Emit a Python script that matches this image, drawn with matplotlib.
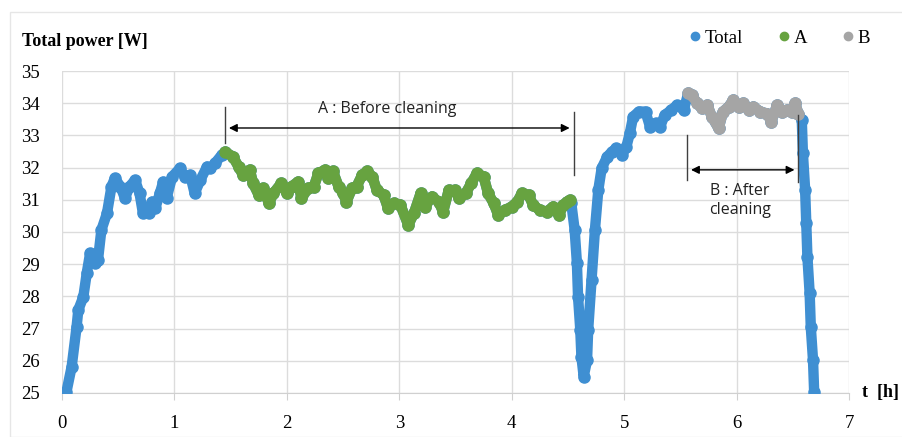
import numpy as np
import matplotlib
matplotlib.use("Agg")
import matplotlib.pyplot as plt
from matplotlib.patches import Rectangle

# ---- data ----
total_t = [0.04, 0.086, 0.13, 0.145, 0.19, 0.22, 0.25, 0.29, 0.32, 0.35, 0.40, 0.44, 0.47, 0.52,
           0.56, 0.60, 0.65, 0.69, 0.72, 0.77, 0.80, 0.83, 0.87, 0.90, 0.93, 0.98, 1.05, 1.09,
           1.14, 1.18, 1.23, 1.29, 1.32, 1.36, 1.42,
           1.45, 1.52, 1.57, 1.61, 1.67, 1.70, 1.75, 1.79, 1.84, 1.88, 1.95, 2.00, 2.04, 2.10,
           2.13, 2.19, 2.24, 2.28, 2.34, 2.37, 2.41, 2.46, 2.50, 2.53, 2.58, 2.62, 2.67, 2.71,
           2.76, 2.80, 2.86, 2.90, 2.95, 3.01, 3.08, 3.13, 3.19, 3.23, 3.29, 3.35, 3.39, 3.44,
           3.50, 3.53, 3.59, 3.64, 3.69, 3.75, 3.79, 3.84, 3.88, 3.94, 4.00, 4.05, 4.09, 4.15,
           4.19, 4.25, 4.31, 4.37, 4.42, 4.46, 4.49, 4.52,
           4.53, 4.56, 4.58, 4.59, 4.61, 4.62, 4.64, 4.67, 4.68, 4.71, 4.74, 4.77, 4.80, 4.85,
           4.89, 4.93, 4.98, 5.02, 5.05, 5.08, 5.13, 5.19, 5.23, 5.28, 5.32, 5.36, 5.42, 5.47,
           5.53,
           5.57, 5.60, 5.65, 5.69, 5.74, 5.78, 5.84, 5.88, 5.93, 5.97, 6.02, 6.06, 6.11, 6.15,
           6.21, 6.27, 6.31, 6.36, 6.40, 6.45, 6.49, 6.52, 6.55,
           6.58, 6.59, 6.61, 6.62, 6.63, 6.65, 6.66, 6.68, 6.69]
total_p = [25.04, 25.82, 27.06, 27.58, 27.99, 28.72, 29.34, 29.03, 29.13, 30.06, 30.58, 31.41, 31.67, 31.41,
           31.05, 31.41, 31.61, 31.20, 30.58, 30.58, 30.94, 30.74, 31.20, 31.56, 31.05, 31.72, 31.98, 31.72,
           31.77, 31.20, 31.61, 32.03, 31.98, 32.13, 32.39,
           32.49, 32.34, 32.03, 31.77, 31.93, 31.51, 31.15, 31.36, 30.89, 31.20, 31.51, 31.20, 31.41, 31.56,
           31.05, 31.36, 31.41, 31.82, 31.93, 31.67, 31.88, 31.41, 31.20, 30.94, 31.36, 31.41, 31.77, 31.88,
           31.72, 31.30, 31.15, 30.74, 30.89, 30.84, 30.22, 30.58, 31.20, 30.79, 31.10, 30.94, 30.63, 31.30,
           31.30, 31.05, 31.20, 31.51, 31.82, 31.72, 31.20, 30.89, 30.53, 30.68, 30.79, 30.94, 31.20, 31.15,
           30.84, 30.68, 30.63, 30.79, 30.53, 30.84, 30.94, 30.99,
           30.89, 30.06, 29.03, 27.99, 26.96, 26.13, 25.51, 26.02, 26.96, 28.51, 30.06, 31.30, 31.98, 32.34,
           32.49, 32.60, 32.39, 32.65, 33.06, 33.58, 33.74, 33.74, 33.27, 33.38, 33.27, 33.63, 33.79, 33.94,
           33.79,
           34.31, 34.25, 34.00, 33.84, 33.94, 33.58, 33.22, 33.74, 33.89, 34.10, 33.89, 34.00, 33.79, 33.89,
           33.74, 33.68, 33.43, 33.94, 33.74, 33.79, 33.74, 34.00, 33.68,
           33.48, 32.44, 31.30, 30.27, 29.23, 28.10, 27.06, 26.02, 25.04]

period_a = (1.45, 4.52)   # A : before cleaning
period_b = (5.57, 6.55)   # B : after cleaning

x_ticks = [0, 1, 2, 3, 4, 5, 6, 7]
y_ticks = [25, 26, 27, 28, 29, 30, 31, 32, 33, 34, 35]

# ---- figure ----
W, H = 903, 437
fig = plt.figure(figsize=(W / 100, H / 100), dpi=100)
fig.patches.append(Rectangle((10 / W, 0), 1, 1 - 12 / H, transform=fig.transFigure,
                             fill=False, edgecolor="#e6e6e6", linewidth=1.0))
ax = fig.add_axes([62 / W, 1 - 393 / H, (849 - 62) / W, (393 - 71) / H])

c_total, c_a, c_b = "#3f8fd2", "#67a340", "#a5a5a5"
t = np.array(total_t)
p = np.array(total_p)
ma = (t >= period_a[0]) & (t <= period_a[1])
mb = (t >= period_b[0]) & (t <= period_b[1])

ms = 8
lw = 7.5
ax.plot(t, p, color=c_total, lw=lw, solid_capstyle="round", solid_joinstyle="round",
        marker="o", ms=ms, zorder=3, label="Total")
ax.plot(t[ma], p[ma], color=c_a, lw=lw, solid_capstyle="round", solid_joinstyle="round",
        marker="o", ms=ms, zorder=4, label="A")
ax.plot(t[mb], p[mb], color=c_b, lw=lw, solid_capstyle="round", solid_joinstyle="round",
        marker="o", ms=ms, zorder=4, label="B")

ax.set_xlim(0, 7)
ax.set_ylim(25, 35)
ax.set_xticks(x_ticks)
ax.set_yticks(y_ticks)
ax.grid(True, color="#dcdcdc", lw=1.0, zorder=0)
for s in ["top", "right", "left"]:
    ax.spines[s].set_visible(False)
ax.spines["bottom"].set_color("#d0d0d0")
ax.tick_params(axis="x", length=5, color="#d0d0d0", pad=11, labelsize=13.5)
ax.tick_params(axis="y", length=0, pad=16, labelsize=13.5)
for lab in ax.get_xticklabels() + ax.get_yticklabels():
    lab.set_family("Liberation Serif")

# annotations
lc = "#404040"
ax.plot([1.45, 1.45], [32.76, 33.88], color=lc, lw=1.0, zorder=5)
ax.plot([4.55, 4.55], [31.77, 33.73], color=lc, lw=1.0, zorder=5)
ax.annotate("", xy=(1.46, 33.23), xytext=(4.54, 33.23),
            arrowprops=dict(arrowstyle="<|-|>", color="black", lw=1.0, mutation_scale=12), zorder=5)
ax.text(2.89, 33.56, "A : Before cleaning", ha="center", va="bottom", fontsize=11.5,
        family="Open Sans", color="#222222")

ax.plot([5.56, 5.56], [31.61, 33.01], color=lc, lw=1.0, zorder=5)
ax.plot([6.55, 6.55], [31.55, 33.63], color=lc, lw=1.0, zorder=5)
ax.annotate("", xy=(5.57, 31.93), xytext=(6.54, 31.93),
            arrowprops=dict(arrowstyle="<|-|>", color="black", lw=1.0, mutation_scale=12), zorder=5)
ax.text(6.03, 30.98, "B : After\ncleaning", ha="center", va="center", fontsize=11.5,
        family="Open Sans", color="#222222", linespacing=1.3)

# titles
fig.text(22 / W, 1 - 42 / H, "Total power [W]", ha="left", va="center", fontsize=13,
         family="Liberation Serif", fontweight="bold")
fig.text(862 / W, 1 - 392 / H, "t  [h]", ha="left", va="center", fontsize=13,
         family="Liberation Serif", fontweight="bold")

leg = ax.legend(loc="center right", bbox_to_anchor=(870 / W, 1 - 38 / H), bbox_transform=fig.transFigure,
                ncol=3, frameon=False, handlelength=0.4, handletextpad=0.3, columnspacing=2.0,
                prop=dict(family="Liberation Serif", size=13.5), markerscale=0.75,
                borderpad=0, borderaxespad=0)
for h in leg.legend_handles:
    h.set_linestyle("none")

fig.savefig("out.png", dpi=100)
